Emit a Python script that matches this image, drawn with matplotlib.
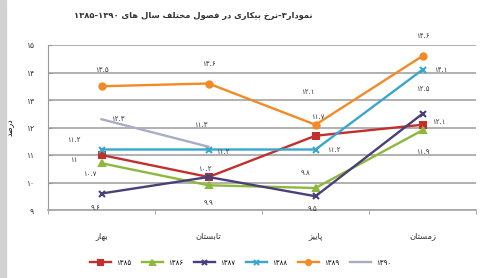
import numpy as np
import matplotlib
matplotlib.use("Agg")
import matplotlib.pyplot as plt
from matplotlib.patches import Rectangle

plt.rcParams['font.family'] = ['DejaVu Sans']

seasons = ['بهار', 'تابستان', 'پاییز', 'زمستان']
years = ['1385', '1386', '1387', '1388', '1389', '1390']
rate_1385 = [11.0, 10.2, 11.7, 12.1]
rate_1386 = [10.7, 9.9, 9.8, 11.9]
rate_1387 = [9.6, 10.2, 9.5, 12.5]
rate_1388 = [11.2, 11.2, 11.2, 14.1]
rate_1389 = [13.5, 13.6, 12.1, 14.6]
rate_1390 = [12.3, 11.3]
y_ticks = [9, 10, 11, 12, 13, 14, 15]

series = [rate_1385, rate_1386, rate_1387, rate_1388, rate_1389, rate_1390]
colors = ['#c0302e', '#8db83c', '#4a3f78', '#3aa6cc', '#f28a26', '#a9adc2']
markers = ['s', '^', 'x', 'x', 'o', '']

# label offsets in pixels (dx, dy) per series / season
offsets = [
    [(-28, -5), (-4, 8), (2, 19), (16, 3)],
    [(-12, -11), (0, -18), (-10, 15), (0, -22)],
    [(-6, -15), None, (-3, -13), (0, 25)],
    [(-28, 9), (14, -3), (18, 0), (18, 0)],
    [(0, 16), (0, 19), (-8, 33), (0, 20)],
    [(16, 0), (-8, 22)],
]

FORMS = {
    'ا': ('\uFE8D', '\uFE8E', None, None),
    'ب': ('\uFE8F', '\uFE90', '\uFE91', '\uFE92'),
    'پ': ('\uFB56', '\uFB57', '\uFB58', '\uFB59'),
    'ت': ('\uFE95', '\uFE96', '\uFE97', '\uFE98'),
    'خ': ('\uFEA5', '\uFEA6', '\uFEA7', '\uFEA8'),
    'د': ('\uFEA9', '\uFEAA', None, None),
    'ر': ('\uFEAD', '\uFEAE', None, None),
    'ز': ('\uFEAF', '\uFEB0', None, None),
    'س': ('\uFEB1', '\uFEB2', '\uFEB3', '\uFEB4'),
    'ص': ('\uFEB9', '\uFEBA', '\uFEBB', '\uFEBC'),
    'ف': ('\uFED1', '\uFED2', '\uFED3', '\uFED4'),
    'ک': ('\uFB8E', '\uFB8F', '\uFB90', '\uFB91'),
    'ل': ('\uFEDD', '\uFEDE', '\uFEDF', '\uFEE0'),
    'م': ('\uFEE1', '\uFEE2', '\uFEE3', '\uFEE4'),
    'ن': ('\uFEE5', '\uFEE6', '\uFEE7', '\uFEE8'),
    'ه': ('\uFEE9', '\uFEEA', '\uFEEB', '\uFEEC'),
    'و': ('\uFEED', '\uFEEE', None, None),
    'ی': ('\uFBFC', '\uFBFD', '\uFBFE', '\uFBFF'),
}


def shape_word(w):
    out = []
    for i, c in enumerate(w):
        if c not in FORMS:
            out.append(c)
            continue
        prev = w[i - 1] if i > 0 else None
        nxt = w[i + 1] if i + 1 < len(w) else None
        jp = prev in FORMS and FORMS[prev][2] is not None
        jn = nxt in FORMS and FORMS[c][2] is not None
        iso, fin, ini, med = FORMS[c]
        out.append(med if jp and jn else fin if jp else ini if jn else iso)
    return ''.join(reversed(out))


def fa(text):
    return ' '.join(shape_word(w) for w in reversed(text.split(' ')))


PD = str.maketrans('0123456789', '۰۱۲۳۴۵۶۷۸۹')


def pdig(s):
    return str(s).translate(PD)


fig = plt.figure(figsize=(4.88, 2.78), dpi=100)
fig.patches.append(Rectangle((0, 0), 6 / 488, 1, transform=fig.transFigure,
                             color='#d2d2d2', zorder=0))
ax = fig.add_axes([48 / 488, 1 - 210 / 278, 428 / 488, 165 / 278])

x = np.arange(len(seasons))
for vals, col, mk, year, offs in zip(series, colors, markers, years, offsets):
    xs = x[:len(vals)]
    ax.plot(xs, vals, color=col, lw=1.7, marker=mk, ms=4.5, mew=1.5,
            label=pdig(year), zorder=3)
    for xi, v, off in zip(xs, vals, offs):
        if off is None:
            continue
        ax.annotate(pdig(f'{v:g}'), (xi, v), xytext=off, textcoords='offset pixels',
                    ha='center', va='center', fontsize=5, color='#333333')

ax.set_xlim(-0.5, 3.5)
ax.set_ylim(9, 15)
ax.set_yticks(y_ticks)
ax.set_yticklabels([pdig(t) for t in y_ticks], fontsize=5.5, color='#333333')
ax.set_xticks(x)
ax.set_xticklabels([fa(s) for s in seasons], fontsize=6, color='#333333')
ax.set_xticks(np.arange(-0.5, 4, 1), minor=True)
ax.tick_params(axis='x', which='major', length=0, pad=15)
ax.tick_params(axis='x', which='minor', length=3, color='#999999')
ax.tick_params(axis='y', length=3, direction='in', color='#999999', pad=10)
ax.grid(axis='y', color='#aaaaaa', lw=1.3)
for s in ['top', 'right']:
    ax.spines[s].set_visible(False)
ax.spines['left'].set_color('#999999')
ax.spines['bottom'].set_color('#aaaaaa')
ax.spines['bottom'].set_linewidth(1.3)
ax.set_ylabel(fa('درصد'), fontsize=5.5, labelpad=8)

fig.text(193 / 488, 1 - 15 / 278,
         '۱۳۸۵-۱۳۹۰ ' + fa('نرخ بیکاری در فصول مختلف سال های') + '-۳' + fa('نمودار'),
         ha='center', va='center', fontsize=6, fontweight='bold', color='#333333')

ax.legend(loc='center', bbox_to_anchor=(0.45, -0.32), ncol=6, frameon=False,
          fontsize=5, handlelength=3, columnspacing=1.5, markerscale=0.8)

fig.savefig('out.png', dpi=100)
